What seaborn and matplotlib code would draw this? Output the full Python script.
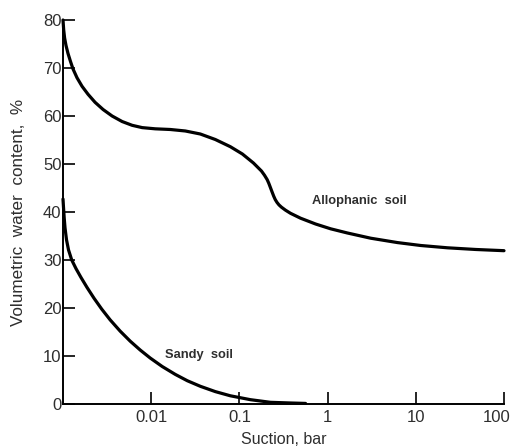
import matplotlib
matplotlib.use("Agg")
import matplotlib.pyplot as plt
import matplotlib.transforms as mtransforms
from matplotlib.ticker import NullLocator, FixedLocator, FixedFormatter
import pandas as pd
import seaborn as sns

# Water retention curves: suction (bar) vs volumetric water content (%)
allophanic_suction = [0.001, 0.0010185, 0.0010428, 0.0010816, 0.0011397, 0.0012167,
                      0.0012993, 0.0014423, 0.0016438, 0.0019231, 0.0023101, 0.002848,
                      0.0036038, 0.0046804, 0.0060822, 0.0079017, 0.011103, 0.016442,
                      0.024343, 0.036038, 0.053367, 0.079017, 0.10817, 0.14423,
                      0.17783, 0.19234, 0.20641, 0.21526, 0.22206, 0.23522, 0.24527,
                      0.25509, 0.26678, 0.28107, 0.30002, 0.33321, 0.37973, 0.49331,
                      0.73071, 1.0816, 1.6745, 3.0811, 6.1955, 11.397, 22.927,
                      48.064, 100.0]
allophanic_water = [80.0, 77.92, 76.25, 74.69, 73.02, 71.35,
                    69.79, 67.96, 66.19, 64.52, 62.85, 61.35,
                    60.0, 58.85, 58.06, 57.58, 57.33, 57.19,
                    56.88, 56.25, 55.10, 53.60, 52.08, 50.21,
                    48.54, 47.67, 46.75, 46.0, 45.35, 44.13, 43.27,
                    42.58, 42.0, 41.48, 41.0, 40.38, 39.73, 38.71,
                    37.5, 36.5, 35.63, 34.54, 33.63, 33.02, 32.54,
                    32.19, 31.94]

sandy_suction = [0.001, 0.001013, 0.001032, 0.001054, 0.001096, 0.001155, 0.001256,
                 0.001405, 0.001601, 0.001874, 0.00225, 0.002753, 0.00342, 0.004443,
                 0.005773, 0.007499, 0.009741, 0.013335, 0.018738, 0.025653,
                 0.036047, 0.053367, 0.078979, 0.13335, 0.22502, 0.37973, 0.56234]
sandy_water = [42.7, 41.0, 38.75, 36.7, 34.2, 32.1, 30.0,
               28.2, 26.35, 24.27, 22.02, 19.75, 17.54, 15.19,
               13.10, 11.25, 9.58, 7.81, 6.17, 4.85,
               3.69, 2.58, 1.71, 0.90, 0.35, 0.21, 0.12]

x_ticks = [0.01, 0.1, 1, 10, 100]
x_tick_labels = ["0.01", "0.1", "1", "10", "100"]
y_ticks = [0, 10, 20, 30, 40, 50, 60, 70, 80]

allophanic = pd.DataFrame({"suction": allophanic_suction, "water": allophanic_water})
sandy = pd.DataFrame({"suction": sandy_suction, "water": sandy_water})

sns.set_style("ticks")
plt.rcParams["font.family"] = ["Liberation Sans", "DejaVu Sans"]

text_color = "#2e2e2e"

fig = plt.figure(figsize=(5.12, 4.48), dpi=100)
ax = fig.add_axes([63 / 512, 44 / 448, 441 / 512, 384 / 448])

sns.lineplot(data=allophanic, x="suction", y="water", ax=ax, color="black",
             linewidth=2.3, clip_on=False)
sns.lineplot(data=sandy, x="suction", y="water", ax=ax, color="black",
             linewidth=2.3, clip_on=False)

ax.set_xscale("log")
ax.set_xlim(0.001, 100)
ax.set_ylim(0, 80)

ax.xaxis.set_major_locator(FixedLocator(x_ticks))
ax.xaxis.set_major_formatter(FixedFormatter(x_tick_labels))
ax.xaxis.set_minor_locator(NullLocator())
ax.set_yticks(y_ticks)
ax.set_yticklabels([str(v) for v in y_ticks])

ax.tick_params(axis="both", direction="in", length=8.5, width=1.2,
               colors="black", labelcolor=text_color, labelsize=12)
ax.tick_params(axis="y", pad=1)
ax.tick_params(axis="x", pad=4)

for side in ("top", "right"):
    ax.spines[side].set_visible(False)
for side in ("left", "bottom"):
    ax.spines[side].set_linewidth(1.4)
    ax.spines[side].set_color("black")

ax.set_xlabel("Suction, bar", fontsize=11.5, color=text_color)
ax.set_ylabel("Volumetric  water  content,  %", fontsize=12.3, color=text_color)
ax.xaxis.set_label_coords(0.5, -0.072)
ax.yaxis.set_label_coords(-0.085, 0.5)

ax.text(2.31, 42.3, "Allophanic  soil", fontsize=9.3, fontweight="bold",
        color=text_color, ha="center", va="center")
ax.text(0.035, 10.2, "Sandy  soil", fontsize=9.3, fontweight="bold",
        color=text_color, ha="center", va="center")

# keep the last x tick label inside the figure
fig.canvas.draw()
last_label = ax.xaxis.get_major_ticks()[-1].label1
last_label.set_transform(last_label.get_transform() +
                         mtransforms.ScaledTranslation(-7 / 100, 0, fig.dpi_scale_trans))

fig.savefig("out.png", dpi=100)
